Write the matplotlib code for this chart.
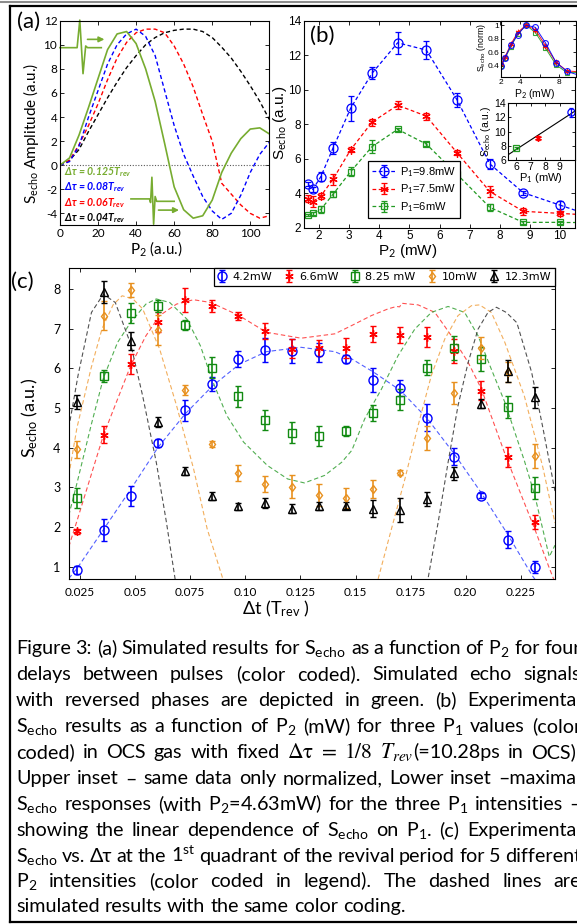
import numpy as np
import matplotlib
matplotlib.use('Agg')
import matplotlib.pyplot as plt
from matplotlib.lines import Line2D

W, H = 577, 924
plt.rcParams['font.family'] = ['Lato', 'DejaVu Sans']
plt.rcParams['mathtext.fontset'] = 'custom'
plt.rcParams['mathtext.rm'] = 'Lato'
plt.rcParams['mathtext.it'] = 'Lato:italic'
plt.rcParams['mathtext.bf'] = 'Lato:bold'
try:
    plt.rcParams['mathtext.bfit'] = 'Lato:italic:bold'
except KeyError:
    pass
plt.rcParams['axes.unicode_minus'] = False
plt.rcParams['axes.linewidth'] = 0.8
for ax_ in ('xtick', 'ytick'):
    plt.rcParams[ax_ + '.direction'] = 'in'
    plt.rcParams[ax_ + '.major.size'] = 3
    plt.rcParams[ax_ + '.major.width'] = 0.6

# ---------------- panel (a): simulation ----------------
a_p2 = [0, 5, 10, 15, 20, 25, 30, 35, 40, 45, 50, 55, 60, 65, 70, 75, 80, 85, 90, 95, 100, 105, 110]
a_green = [0, 0.6, 2.5, 4.8, 7.2, 9.6, 10.9, 11.1, 10.1, 8.0, 5.3, 1.8, -1.8, -3.7, -4.4, -4.2, -2.9, -0.6, 1.0, 2.2, 3.0, 3.1, 2.6]
a_blue = [0, 0.3, 1.6, 4.0, 6.2, 8.4, 10.0, 10.9, 11.3, 10.7, 9.1, 6.2, 3.3, 0.9, -0.9, -2.6, -3.8, -4.5, -4.0, -2.5, -0.6, 0.9, 1.9]
a_red = [0, 0.4, 1.7, 3.3, 5.1, 7.1, 8.9, 10.2, 11.0, 11.3, 11.3, 11.0, 9.9, 8.4, 6.5, 4.2, 2.0, -1.5, -2.4, -3.3, -4.0, -4.4, -4.2]
a_black = [0, 0.4, 1.3, 2.8, 4.2, 5.6, 6.9, 8.1, 9.1, 10.0, 10.6, 11.0, 11.2, 11.3, 11.3, 11.1, 10.6, 9.8, 8.9, 7.8, 6.6, 5.3, 3.8]
a_delays = ['0.125', '0.08', '0.06', '0.04']

# decorative pulse icons in panel (a)
icon_up_x = [0, 9.0, 10.4, 12.1, 13.5, 14.5, 21.7]
icon_up_y = [9.76, 9.76, 12.05, 7.6, 9.9, 9.76, 9.76]
icon_dn_x = [37.3, 47.0, 47.6, 48.3, 49.2, 50.0, 50.8, 52.9, 60.0]
icon_dn_y = [-2.8, -2.8, -3.1, -1.0, -4.9, -2.6, -3.0, -3.0, -3.0]

# ---------------- panel (b): experiment ----------------
b_p2 = [1.64, 1.79, 2.06, 2.46, 3.05, 3.76, 4.61, 5.56, 6.58, 7.67, 8.78, 10.0]
b_blue = [4.51, 4.22, 4.96, 6.60, 8.93, 10.95, 12.72, 12.30, 9.42, 5.70, 4.03, 3.31]
b_blue_err = [0.12, 0.15, 0.27, 0.35, 0.72, 0.35, 0.65, 0.5, 0.4, 0.3, 0.12, 0.25]
b_red = [3.68, 3.51, 3.84, 4.80, 6.52, 8.12, 9.10, 8.47, 6.35, 4.10, 2.95, 2.83]
b_red_err = [0.2, 0.3, 0.2, 0.3, 0.15, 0.2, 0.22, 0.2, 0.15, 0.3, 0.2, 0.15]
b_green = [2.73, 2.83, 3.06, 3.93, 5.25, 6.70, 7.70, 6.85, 5.10, 3.18, 2.31, 2.31]
b_green_err = [0.08, 0.08, 0.2, 0.15, 0.25, 0.37, 0.1, 0.12, 0.15, 0.2, 0.1, 0.1]
b_p1 = [9.8, 7.5, 6.0]
b_labels = ['P$_1$=9.8mW', 'P$_1$=7.5mW', 'P$_1$=6mW']

# ---------------- panel (c): experiment + simulation ----------------
c_dt = [0.0236, 0.0358, 0.0480, 0.0603, 0.0725, 0.0847, 0.0969, 0.1091, 0.1214,
        0.1336, 0.1458, 0.1580, 0.1702, 0.1825, 0.1947, 0.2069, 0.2191, 0.2313]
c_blue = [0.92, 1.93, 2.79, 4.11, 4.94, 5.61, 6.23, 6.46, 6.43, 6.40, 6.23, 5.71, 5.50, 4.76, 3.77, 2.79, 1.68, 1.00]
c_blue_err = [0.1, 0.28, 0.25, 0.1, 0.27, 0.18, 0.2, 0.3, 0.3, 0.25, 0.1, 0.3, 0.2, 0.33, 0.22, 0.07, 0.22, 0.15]
c_red = [1.89, 4.33, 6.11, 7.17, 7.73, 7.57, 7.32, 6.94, 6.50, 6.52, 6.52, 6.87, 6.83, 6.79, 6.44, 5.44, 3.77, 2.12]
c_red_err = [0.07, 0.22, 0.25, 0.25, 0.3, 0.15, 0.1, 0.2, 0.25, 0.2, 0.25, 0.2, 0.2, 0.25, 0.3, 0.25, 0.25, 0.18]
c_green = [2.72, 5.80, 7.40, 7.57, 7.09, 6.02, 5.29, 4.69, 4.38, 4.30, 4.42, 4.87, 5.21, 6.02, 6.52, 6.23, 5.02, 2.98]
c_green_err = [0.25, 0.15, 0.25, 0.15, 0.12, 0.27, 0.27, 0.25, 0.27, 0.25, 0.13, 0.2, 0.27, 0.2, 0.3, 0.3, 0.27, 0.27]
c_orange = [3.96, 7.33, 7.98, 6.97, 5.45, 4.09, 3.35, 3.08, 3.02, 2.81, 2.73, 2.96, 3.37, 4.25, 5.37, 6.52, 5.90, 3.79]
c_orange_err = [0.22, 0.37, 0.17, 0.38, 0.12, 0.07, 0.2, 0.2, 0.3, 0.28, 0.25, 0.23, 0.07, 0.3, 0.28, 0.28, 0.25, 0.3]
c_black = [5.15, 7.92, 6.69, 4.65, 3.42, 2.77, 2.52, 2.60, 2.46, 2.53, 2.54, 2.46, 2.43, 2.71, 3.35, 5.11, 5.94, 5.27]
c_black_err = [0.17, 0.27, 0.23, 0.12, 0.1, 0.1, 0.08, 0.13, 0.12, 0.1, 0.08, 0.22, 0.3, 0.17, 0.17, 0.12, 0.28, 0.27]
c_labels = ['4.2mW', '6.6mW', '8.25 mW', '10mW', '12.3mW']

sim_blue_x = [0.0199, 0.0236, 0.0356, 0.0480, 0.0603, 0.0727, 0.0850, 0.0972, 0.1095, 0.1253, 0.1406,
              0.1482, 0.1583, 0.1704, 0.1826, 0.1947, 0.2068, 0.2184, 0.2300, 0.2330]
sim_blue_y = [0.70, 0.95, 1.93, 2.95, 4.00, 4.85, 5.55, 6.10, 6.42, 6.53, 6.42,
              6.24, 5.90, 5.44, 4.73, 3.85, 2.88, 1.87, 0.79, 0.55]
sim_red_x = [0.0199, 0.0236, 0.0356, 0.0480, 0.0549, 0.0611, 0.0688, 0.0765, 0.0843, 0.0972, 0.1095,
             0.1253, 0.1406, 0.1483, 0.1572, 0.1648, 0.1686, 0.1700, 0.1710, 0.1784, 0.1860, 0.1935,
             0.2011, 0.2071, 0.2131, 0.2184, 0.2313, 0.2380, 0.2405]
sim_red_y = [1.50, 2.15, 4.31, 6.07, 6.82, 7.33, 7.62, 7.73, 7.66, 7.33, 6.91,
             6.76, 6.87, 7.08, 7.33, 7.50, 7.56, 7.55, 7.64, 7.60, 7.41, 6.82,
             6.15, 5.48, 4.56, 3.75, 1.95, 0.95, 0.60]
sim_green_x = [0.0199, 0.0236, 0.0302, 0.0356, 0.0420, 0.0480, 0.0549, 0.0596, 0.0657, 0.0735, 0.0796,
               0.0850, 0.0916, 0.0992, 0.1100, 0.1192, 0.1268, 0.1360, 0.1437, 0.1483, 0.1542, 0.1618,
               0.1693, 0.1769, 0.1844, 0.1920, 0.1995, 0.2056, 0.2116, 0.2177, 0.2266, 0.2313, 0.2379, 0.2405]
sim_green_y = [2.29, 3.10, 4.60, 5.75, 6.65, 7.16, 7.62, 7.75, 7.66, 7.24, 6.57,
               5.70, 4.81, 4.14, 3.55, 3.21, 3.11, 3.30, 3.63, 3.93, 4.73, 5.48,
               6.32, 6.99, 7.41, 7.56, 7.41, 6.82, 5.98, 5.15, 3.67, 2.80, 1.25, 1.54]
sim_orange_x = [0.0199, 0.0236, 0.0300, 0.0350, 0.0400, 0.0441, 0.0490, 0.0534, 0.0611, 0.0688, 0.0765,
                0.0827, 0.0893, 0.0915, np.nan, 0.1580, 0.1603, 0.1663, 0.1724, 0.1784, 0.1844, 0.1905,
                0.1965, 0.2026, 0.2063, 0.2116, 0.2177, 0.2266, 0.2313, 0.2350, 0.2385, 0.2405]
sim_orange_y = [3.30, 4.50, 6.00, 7.00, 7.60, 7.83, 7.75, 7.50, 6.49, 5.06, 3.47,
                1.95, 0.78, 0.40, np.nan, 0.35, 0.70, 1.95, 3.21, 4.56, 5.82, 6.74,
                7.33, 7.58, 7.60, 7.41, 6.66, 5.30, 4.30, 3.50, 2.60, 2.10]
sim_black_x = [0.0199, 0.0241, 0.0302, 0.0356, 0.0410, 0.0480, 0.0534, 0.0596, 0.0642, 0.0681, 0.0700,
               np.nan, 0.1810, 0.1829, 0.1875, 0.1920, 0.1965, 0.2011, 0.2056, 0.2101, 0.2139, 0.2184,
               0.2232, 0.2299, 0.2350, 0.2405]
sim_black_y = [4.50, 5.82, 7.41, 7.87, 7.66, 6.61, 5.31, 3.63, 2.12, 0.70, 0.20,
               np.nan, 0.20, 0.70, 2.12, 3.63, 5.06, 6.15, 6.99, 7.41, 7.54, 7.41,
               7.15, 5.90, 4.50, 2.90]

# ---------------- colours ----------------
GA = '#77AC30'
GB = '#229A22'
GC = '#118A11'
OR = '#E8901E'

fig = plt.figure(figsize=(W / 100, H / 100), dpi=100)


def add_ax(x0, y0, x1, y1, **kw):
    return fig.add_axes([x0 / W, 1 - y1 / H, (x1 - x0) / W, (y1 - y0) / H], **kw)


def ftext(x, y, s, **kw):
    return fig.text(x / W, 1 - y / H, s, **kw)


def boxify(ax, size, family=None, pad=2):
    ax.tick_params(top=True, right=True, labelsize=size, pad=pad)
    if family:
        for lab in ax.get_xticklabels() + ax.get_yticklabels():
            lab.set_family(family)


# ================= panel (a) =================
axa = add_ax(60, 20.7, 269.3, 225.4)
axa.axhline(0, color='0.35', lw=0.8, ls=(0, (1, 1.5)))
axa.plot(a_p2, a_black, color='k', lw=1.0, dashes=(3, 2))
axa.plot(a_p2, a_red, color='#FF0000', lw=1.0, dashes=(3, 2))
axa.plot(a_p2, a_blue, color='#0000FF', lw=1.0, dashes=(3, 2))
axa.plot(a_p2, a_green, color=GA, lw=1.2)
axa.plot(icon_up_x, icon_up_y, color=GA, lw=1.2, clip_on=False)
axa.plot(icon_dn_x, icon_dn_y, color=GA, lw=1.2, clip_on=False)
axa.annotate('', xy=(24.8, 10.45), xytext=(13.0, 10.45),
             arrowprops=dict(arrowstyle='-|>', color=GA, lw=1.2, mutation_scale=8))
axa.annotate('', xy=(64.0, -3.73), xytext=(50.3, -3.73),
             arrowprops=dict(arrowstyle='-|>', color=GA, lw=1.2, mutation_scale=8))
axa.set_xlim(0, 110)
axa.set_ylim(-5, 12)
axa.set_xticks(range(0, 101, 20))
axa.set_yticks(range(-4, 13, 2))
boxify(axa, 8.5)
a_cols = [GA, '#0000FF', '#FF0000', 'k']
a_ypix = [172, 187.5, 203, 218.5]
for d, c, yp in zip(a_delays, a_cols, a_ypix):
    ftext(64, yp, 'Δτ = ' + d + r'T$_{\mathbfit{rev}}$', color=c, fontsize=7.6,
          fontweight='bold', fontstyle='italic', ha='left', va='center')
ftext(31, 133, r'S$_{\mathrm{echo}}$ Amplitude (a.u.)', rotation=90, ha='center', va='center', fontsize=11)
ftext(156, 249, r'P$_2$ (a.u.)', ha='center', va='center', fontsize=11)
ftext(29, 22, '(a)', ha='center', va='center', fontsize=16)

# ================= panel (b) =================
axb = add_ax(304, 20.7, 575, 227.7)
b_series = [(b_blue, b_blue_err, '#0000FF', 'o', 6.5),
            (b_red, b_red_err, '#FF0000', (6, 2, 0), 6),
            (b_green, b_green_err, GB, 's', 5)]
xr = 10.5
for (ys, es, c, m, ms), lab in zip(b_series, b_labels):
    axb.errorbar(b_p2, ys, yerr=es, color=c, ls=(0, (3, 2)), lw=0.9, marker=m, ms=ms,
                 mfc='none', mew=0.9, capsize=2, elinewidth=1.0, label=lab)
    slope = (ys[-1] - ys[-2]) / (b_p2[-1] - b_p2[-2])
    axb.plot([b_p2[-1], xr], [ys[-1], ys[-1] + slope * (xr - b_p2[-1])], color=c, ls=(0, (3, 2)), lw=0.9)
axb.set_xlim(1.5, xr)
axb.set_ylim(2, 14)
axb.set_xticks(range(2, 11))
axb.set_yticks(range(2, 15, 2))
boxify(axb, 8.5, 'Liberation Sans')
leg = axb.legend(loc='upper left', bbox_to_anchor=((368 - 304) / 271, (227.7 - 161) / 207), borderaxespad=0,
                 frameon=True, fancybox=False, edgecolor='k', framealpha=1,
                 prop={'family': 'Liberation Sans', 'size': 8}, handlelength=2.2, handletextpad=0.3,
                 labelspacing=0.35, borderpad=0.35)
leg.get_frame().set_linewidth(0.9)
ftext(280, 123, r'S$_{\mathrm{echo}}$ (a.u.)', rotation=90, ha='center', va='center', fontsize=11,
      family='Liberation Sans')
ftext(408, 251, r'P$_2$ (mW)', ha='center', va='center', fontsize=11, family='Liberation Sans')
ftext(322, 36, '(b)', ha='center', va='center', fontsize=16)

# upper inset: normalised
ax_i1 = add_ax(500.5, 20.7, 576, 77.3)
for (ys, es, c, m, ms) in b_series[::-1]:
    arr = np.array(ys)
    ax_i1.plot(b_p2, arr / arr[6], color=c, lw=0.7, marker=m, ms=ms * 0.65, mfc='none', mew=0.8, alpha=0.9)
ax_i1.set_xlim(2, 9.7)
ax_i1.set_ylim(0.23, 1.065)
ax_i1.set_xticks([2, 4, 6, 8])
ax_i1.set_xticklabels(['2', '4', '', '8'])
ax_i1.set_yticks([0.4, 0.6, 0.8, 1.0])
ax_i1.set_yticklabels(['0.4', '0.6', '0.8', '1'])
boxify(ax_i1, 6, 'Liberation Sans', pad=1.0)
ax_i1.tick_params(length=2)
ftext(481, 48, r'S$_{\mathrm{echo}}$ (norm)', rotation=90, ha='center', va='center', fontsize=6.3,
      family='Liberation Sans')
ftext(535, 94, r'P$_2$ (mW)', ha='center', va='center', fontsize=7.5, family='Liberation Sans')

# lower inset: max vs P1
ax_i2 = add_ax(508.3, 103.3, 575, 160)
peaks = [b_blue[6], b_red[6], b_green[6]]
peak_err = [b_blue_err[6], b_red_err[6], b_green_err[6]]
coef = np.polyfit(b_p1, peaks, 1)
xl = np.array([5.47, 10.05])
ax_i2.plot(xl, np.polyval(coef, xl), color='k', lw=0.8)
for p1, pk, pe, (ys, es, c, m, ms) in zip(b_p1, peaks, peak_err, b_series):
    ax_i2.errorbar([p1], [pk], yerr=[pe], color=c, marker=m, ms=ms * 0.8, mfc='none', mew=0.9,
                   capsize=1.5, elinewidth=0.9, ls='none')
ax_i2.set_xlim(*xl)
ax_i2.set_ylim(6, 14)
ax_i2.set_xticks([6, 7, 8, 9])
ax_i2.set_yticks([6, 8, 10, 12, 14])
boxify(ax_i2, 7.5, 'Liberation Sans', pad=1.5)
ax_i2.tick_params(length=2)
ftext(486, 131, r'S$_{\mathrm{echo}}$ (a.u.)', rotation=90, ha='center', va='center', fontsize=7.5,
      family='Liberation Sans')
ftext(541, 178, r'P$_1$ (mW)', ha='center', va='center', fontsize=8, family='Liberation Sans')

# ================= panel (c) =================
axc = add_ax(69, 268, 555, 578.5)
sims = [(sim_blue_x, sim_blue_y, '#3344FF'), (sim_red_x, sim_red_y, '#FF3333'),
        (sim_green_x, sim_green_y, '#33A033'), (sim_orange_x, sim_orange_y, '#F0A040'),
        (sim_black_x, sim_black_y, '#333333')]
for sx, sy, c in sims:
    axc.plot(sx, sy, color=c, lw=0.8, dashes=(4, 2.5), alpha=0.85)
c_series = [(c_blue, c_blue_err, '#0000FF', 'o', 6.5),
            (c_red, c_red_err, '#FF0000', (6, 2, 0), 6),
            (c_green, c_green_err, GC, 's', 5.5),
            (c_orange, c_orange_err, OR, 'd', 4.5),
            (c_black, c_black_err, 'k', '^', 5.5)]
for (ys, es, c, m, ms), lab in zip(c_series, c_labels):
    axc.errorbar(c_dt, ys, yerr=es, color=c, ls='none', marker=m, ms=ms, mfc='none', mew=1.0,
                 capsize=2, elinewidth=1.2, label=lab)
axc.set_xlim(0.02, 0.2405)
axc.set_ylim(0.7, 8.53)
c_ticks = [0.025, 0.05, 0.075, 0.10, 0.125, 0.15, 0.175, 0.20, 0.225]
axc.set_xticks(c_ticks)
axc.set_xticklabels(['0.025', '0.05', '0.075', '0.10', '0.125', '0.15', '0.175', '0.20', '0.225'])
axc.set_yticks(range(1, 9))
boxify(axc, 9)
axc.tick_params(axis='x', pad=6, labelsize=8.5)
axc.tick_params(axis='y', pad=6)
legc = axc.legend(loc='upper right', bbox_to_anchor=(1, 1), borderaxespad=0, ncol=5, frameon=True,
                  fancybox=False, edgecolor='k', framealpha=1,
                  prop={'family': 'DejaVu Sans', 'size': 8}, handlelength=0.8, handletextpad=0.5,
                  columnspacing=1.1, borderpad=0.35)
legc.get_frame().set_linewidth(0.9)
ftext(30, 418, r'S$_{\mathrm{echo}}$ (a.u.)', rotation=90, ha='center', va='center', fontsize=13)
ftext(276, 609, r'Δt (T$_{\mathrm{rev}}$ )', ha='center', va='center', fontsize=13)
ftext(22, 282, '(c)', ha='center', va='center', fontsize=16)

# ================= frame =================
fig.add_artist(Line2D([0, 1], [1 - 1.5 / H, 1 - 1.5 / H], transform=fig.transFigure, color='0.55', lw=1.5))
fig.add_artist(Line2D([10 / W, 1], [1 - 5.5 / H, 1 - 5.5 / H], transform=fig.transFigure, color='k', lw=1.6))
fig.add_artist(Line2D([10 / W, 10 / W], [1 - 5.5 / H, 1 - 921.5 / H], transform=fig.transFigure, color='k', lw=1.6))
fig.add_artist(Line2D([10 / W, 1], [1 - 921.5 / H, 1 - 921.5 / H], transform=fig.transFigure, color='k', lw=1.6))

# ================= caption =================
SE = r'S$_{\mathrm{echo}}$'
cap_lines = [
    'Figure 3: (a) Simulated results for ' + SE + ' as a function of P$_2$ for four',
    'delays between pulses (color coded). Simulated echo signals',
    'with reversed phases are depicted in green. (b) Experimental',
    SE + ' results as a function of P$_2$ (mW) for three P$_1$ values (color',
    'coded) in OCS gas with fixed @@FORMULA@@ in OCS).',
    'Upper inset – same data only normalized, Lower inset –maximal',
    SE + ' responses (with P$_2$=4.63mW) for the three P$_1$ intensities –',
    'showing the linear dependence of ' + SE + ' on P$_1$. (c) Experimental',
    SE + ' vs. Δτ at the 1$^{\\mathrm{st}}$ quadrant of the revival period for 5 different',
    'P$_2$ intensities (color coded in legend). The dashed lines are',
    'simulated results with the same color coding.',
]
cap_y = [649.3, 675, 701, 727.3, 752.7, 779.3, 805, 830.7, 857.3, 882.3, 907.3]
renderer = fig.canvas.get_renderer()
serif = {'family': 'STIXGeneral', 'math_fontfamily': 'stix'}


def measure(s, fs, props):
    t = fig.text(0, 0, s, fontsize=fs, **props)
    w = t.get_window_extent(renderer).width
    t.remove()
    return w


LEFT, RIGHT = 16, 581
fs0 = 12
w_last = measure(cap_lines[-1], fs0, {})
fs = fs0 * (405 - LEFT) / w_last


def words_of(line):
    out = []
    for tok in line.split(' '):
        if tok == '@@FORMULA@@':
            out += [[('Δτ', serif)], [('=', serif)], [('1/8', serif)],
                    [('$T_{rev}$', serif), ('(=10.28ps', {})]]
        else:
            out.append([(tok, {})])
    return out


for i, (line, yc) in enumerate(zip(cap_lines, cap_y)):
    words = words_of(line)
    widths = [[measure(s, fs * (1.1 if p else 1.0), p) for s, p in w] for w in words]
    tot = sum(sum(ws) for ws in widths)
    if i == len(cap_lines) - 1:
        gap = measure('a b', fs, {}) - measure('ab', fs, {})
    else:
        gap = (RIGHT - LEFT - tot) / (len(words) - 1)
    x = LEFT
    for w, ws in zip(words, widths):
        for (s, p), sw in zip(w, ws):
            ftext(x, yc + 5, s, fontsize=fs * (1.1 if p else 1.0), ha='left', va='baseline', **p)
            x += sw
        x += gap

fig.savefig('out.png', dpi=100)
